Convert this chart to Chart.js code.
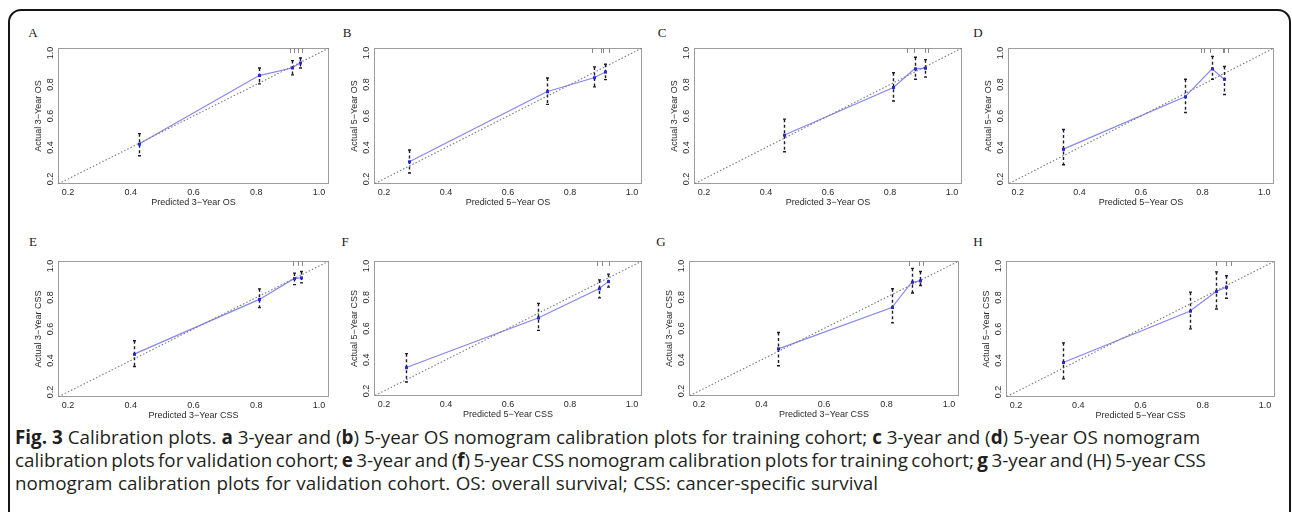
<!DOCTYPE html>
<html><head><meta charset="utf-8">
<script src="https://cdn.jsdelivr.net/npm/chart.js@4.4.1/dist/chart.umd.min.js"></script>
<style>
html,body{margin:0;padding:0;background:#fff;width:1292px;height:512px;overflow:hidden;position:relative;}
#frame{position:absolute;left:8px;top:9px;width:1283px;height:620px;border:2px solid #151515;border-radius:13px;box-sizing:border-box;}
canvas.panel{position:absolute;}
.letter{position:absolute;font-family:"Liberation Serif",serif;font-size:13px;color:#1a1a1a;transform:translate(-50%,-50%);line-height:1;}
.cap{position:absolute;left:15px;font-family:"Open Sans",sans-serif;font-size:16px;color:#231f20;white-space:nowrap;line-height:22px;}
.cap b{font-weight:700;}
</style></head>
<body>
<div id="frame"></div>
<div id="root"></div>
<div class="cap" id="cap1" style="top:426px"><b>Fig. 3</b> Calibration plots. <b>a</b> 3-year and (<b>b</b>) 5-year OS nomogram calibration plots for training cohort; <b>c</b> 3-year and (<b>d</b>) 5-year OS nomogram</div>
<div class="cap" id="cap2" style="top:449px">calibration plots for validation cohort; <b>e</b> 3-year and (<b>f</b>) 5-year CSS nomogram calibration plots for training cohort; <b>g</b> 3-year and (H) 5-year CSS</div>
<div class="cap" id="cap3" style="top:472px">nomogram calibration plots for validation cohort. OS: overall survival; CSS: cancer-specific survival</div>
<script>
// ---- data ----
const TICKS = [0.2, 0.4, 0.6, 0.8, 1.0];
const AXIS_RANGE = [0.168, 1.032];
const DIAGONAL = [0, 1.2];
const PANEL_LETTERS = ["A","B","C","D","E","F","G","H"];
const X_TITLES = ["Predicted 3\u2212Year OS","Predicted 5\u2212Year OS","Predicted 3\u2212Year OS","Predicted 5\u2212Year OS",
                  "Predicted 3\u2212Year CSS","Predicted 5\u2212Year CSS","Predicted 3\u2212Year CSS","Predicted 5\u2212Year CSS"];
const Y_TITLES = ["Actual 3\u2212Year OS","Actual 5\u2212Year OS","Actual 3\u2212Year OS","Actual 5\u2212Year OS",
                  "Actual 3\u2212Year CSS","Actual 5\u2212Year CSS","Actual 3\u2212Year CSS","Actual 5\u2212Year CSS"];

const A_pred   = [0.425, 0.809, 0.914, 0.940];
const A_actual = [0.421, 0.857, 0.905, 0.937];
const A_lower  = [0.347, 0.804, 0.861, 0.905];
const A_upper  = [0.488, 0.905, 0.952, 0.968];
const A_rug    = [0.908, 0.920, 0.932, 0.945];

const B_pred   = [0.282, 0.725, 0.877, 0.914];
const B_actual = [0.309, 0.754, 0.843, 0.879];
const B_lower  = [0.238, 0.674, 0.785, 0.831];
const B_upper  = [0.384, 0.841, 0.912, 0.929];
const B_rug    = [0.870, 0.900, 0.907, 0.926];

const C_pred   = [0.458, 0.811, 0.879, 0.912];
const C_actual = [0.478, 0.781, 0.900, 0.903];
const C_lower  = [0.373, 0.695, 0.833, 0.847];
const C_upper  = [0.580, 0.875, 0.973, 0.958];
const C_rug    = [0.854, 0.878, 0.912, 0.923];

const D_pred   = [0.346, 0.743, 0.831, 0.870];
const D_actual = [0.388, 0.722, 0.900, 0.833];
const D_lower  = [0.290, 0.622, 0.833, 0.737];
const D_upper  = [0.514, 0.833, 0.979, 0.914];
const D_rug    = [0.796, 0.804, 0.824, 0.865, 0.870, 0.881];

const E_pred   = [0.409, 0.810, 0.920, 0.942];
const E_actual = [0.439, 0.788, 0.920, 0.925];
const E_lower  = [0.362, 0.736, 0.882, 0.893];
const E_upper  = [0.525, 0.855, 0.955, 0.965];
const E_rug    = [0.916, 0.932, 0.945];

const F_pred   = [0.270, 0.697, 0.893, 0.923];
const F_actual = [0.349, 0.667, 0.854, 0.900];
const F_lower  = [0.258, 0.588, 0.796, 0.865];
const F_upper  = [0.439, 0.761, 0.911, 0.948];
const F_rug    = [0.886, 0.904, 0.924];

const G_pred   = [0.454, 0.817, 0.881, 0.908];
const G_actual = [0.470, 0.734, 0.896, 0.905];
const G_lower  = [0.362, 0.636, 0.827, 0.875];
const G_upper  = [0.574, 0.854, 0.985, 0.965];
const G_rug    = [0.873, 0.904, 0.917];

const H_pred   = [0.352, 0.758, 0.843, 0.875];
const H_actual = [0.387, 0.713, 0.838, 0.865];
const H_lower  = [0.283, 0.601, 0.727, 0.795];
const H_upper  = [0.512, 0.834, 0.963, 0.938];
const H_rug    = [0.841, 0.875, 0.891];

const SERIES = [
  [A_pred, A_actual, A_lower, A_upper, A_rug],
  [B_pred, B_actual, B_lower, B_upper, B_rug],
  [C_pred, C_actual, C_lower, C_upper, C_rug],
  [D_pred, D_actual, D_lower, D_upper, D_rug],
  [E_pred, E_actual, E_lower, E_upper, E_rug],
  [F_pred, F_actual, F_lower, F_upper, F_rug],
  [G_pred, G_actual, G_lower, G_upper, G_rug],
  [H_pred, H_actual, H_lower, H_upper, H_rug]
];

// ---- layout (plot box: left, right, top, bottom) ----
const BOXES = [
  [58, 329, 48, 184], [374, 642, 48, 184], [694, 962, 48, 184], [1008, 1274, 48, 184],
  [58, 329, 261, 397], [374, 642, 261, 396], [689, 959, 261, 396], [1006, 1275, 261, 397]
];
const LETTER_POS = [[33,32],[347,32],[662,32],[978,32],[33,241],[345,241],[661,241],[978,241]];
const CAPTION_LEFT = 15;
const CAPTION_RIGHT = [1200, 1206, 878];
const Y_AXIS_W = 30, X_AXIS_H = 26, PAD_TOP = 8, PAD_RIGHT = 6;
const FONT = "'Liberation Sans', Arial, sans-serif";

const boxPlugin = {
  id: 'rbox',
  beforeDatasetsDraw(chart) {
    const a = chart.chartArea, ctx = chart.ctx;
    ctx.save();
    ctx.strokeStyle = '#9c9c9c'; ctx.lineWidth = 1;
    ctx.strokeRect(Math.round(a.left) + 0.5, Math.round(a.top) + 0.5, Math.round(a.right - a.left) - 1, Math.round(a.bottom - a.top) - 1);
    ctx.restore();
  }
};
const rugPlugin = {
  id: 'rug',
  afterDatasetsDraw(chart) {
    const ds = chart.data.datasets[1];
    const xs = chart.scales.x, a = chart.chartArea, ctx = chart.ctx;
    ctx.save();
    ctx.strokeStyle = '#8a8a8a'; ctx.lineWidth = 1;
    ds.rug.forEach(v => {
      const px = Math.round(xs.getPixelForValue(v)) + 0.5;
      ctx.beginPath(); ctx.moveTo(px, a.top); ctx.lineTo(px, a.top + 5); ctx.stroke();
    });
    ctx.restore();
  }
};
const errPlugin = {
  id: 'errbars',
  afterDatasetsDraw(chart) {
    const ds = chart.data.datasets[1];
    const xs = chart.scales.x, ys = chart.scales.y, ctx = chart.ctx;
    ctx.save();
    ctx.strokeStyle = '#1c1c30'; ctx.lineWidth = 1.4;
    ds.data.forEach((pt, j) => {
      const px = Math.round(xs.getPixelForValue(pt.x)) + 0.5;
      const yl = ys.getPixelForValue(ds.lower[j]);
      const yh = ys.getPixelForValue(ds.upper[j]);
      ctx.setLineDash([3, 2.5]);
      ctx.beginPath(); ctx.moveTo(px, yh); ctx.lineTo(px, yl); ctx.stroke();
      ctx.setLineDash([]);
      ctx.beginPath();
      ctx.moveTo(px - 1.5, yh); ctx.lineTo(px + 1.5, yh);
      ctx.moveTo(px - 1.5, yl); ctx.lineTo(px + 1.5, yl);
      ctx.stroke();
      ctx.fillStyle = '#2a2ad0';
      ctx.fillRect(px - 1.5, ys.getPixelForValue(pt.y) - 1.5, 3, 3);
    });
    ctx.restore();
  }
};

const root = document.getElementById('root');
SERIES.forEach((s, i) => {
  const [L, R, T, B] = BOXES[i];
  const cv = document.createElement('canvas');
  cv.className = 'panel';
  const W = (R - L) + Y_AXIS_W + PAD_RIGHT, H = (B - T) + PAD_TOP + X_AXIS_H;
  cv.width = W; cv.height = H;
  cv.style.left = (L - Y_AXIS_W) + 'px'; cv.style.top = (T - PAD_TOP) + 'px';
  cv.style.width = W + 'px'; cv.style.height = H + 'px';
  root.appendChild(cv);

  const lt = document.createElement('div');
  lt.className = 'letter'; lt.textContent = PANEL_LETTERS[i];
  lt.style.left = LETTER_POS[i][0] + 'px'; lt.style.top = LETTER_POS[i][1] + 'px';
  root.appendChild(lt);

  const [pred, actual, lower, upper, rug] = s;
  new Chart(cv, {
    type: 'line',
    data: {
      datasets: [
        { label: 'ideal', data: DIAGONAL.map(v => ({x: v, y: v})), borderColor: '#7a7a7a', borderWidth: 1.1,
          borderDash: [1.5, 2], pointRadius: 0, fill: false },
        { label: 'calibration', data: pred.map((p, j) => ({x: p, y: actual[j]})), borderColor: '#8686f5',
          borderWidth: 1.2, pointRadius: 0, fill: false, lower: lower, upper: upper, rug: rug }
      ]
    },
    options: {
      responsive: false, animation: false, devicePixelRatio: 1,
      layout: { padding: { left: 0, top: PAD_TOP, right: PAD_RIGHT, bottom: 0 } },
      plugins: { legend: { display: false }, tooltip: { enabled: false } },
      scales: {
        x: {
          type: 'linear', min: AXIS_RANGE[0], max: AXIS_RANGE[1],
          grid: { display: false, drawTicks: false }, border: { display: false },
          afterBuildTicks: sc => { sc.ticks = TICKS.map(v => ({ value: v })); },
          afterFit: sc => { sc.height = X_AXIS_H; },
          ticks: { font: { family: FONT, size: 9 }, color: '#2a2a2a', padding: 3, maxRotation: 0, autoSkip: false,
                   callback: v => v.toFixed(1) },
          title: { display: true, text: X_TITLES[i], font: { family: FONT, size: 9 }, color: '#2a2a2a',
                   padding: { top: 0, bottom: 2.4 } }
        },
        y: {
          type: 'linear', min: AXIS_RANGE[0], max: AXIS_RANGE[1],
          grid: { display: false, drawTicks: false }, border: { display: false },
          afterBuildTicks: sc => { sc.ticks = TICKS.map(v => ({ value: v })); },
          afterFit: sc => { sc.width = Y_AXIS_W; },
          ticks: { font: { family: FONT, size: 9 }, color: '#2a2a2a', padding: 1.5, minRotation: 90, maxRotation: 90,
                   crossAlign: 'center', autoSkip: false, callback: v => v.toFixed(1) },
          title: { display: true, text: Y_TITLES[i], font: { family: FONT, size: 9 }, color: '#2a2a2a',
                   padding: { top: 5.6, bottom: 0 } }
        }
      }
    },
    plugins: [boxPlugin, rugPlugin, errPlugin]
  });
});

// caption: font sized on line 1, small word-spacing tweaks so each line ends where it does in the figure
(function(){
  const c1 = document.getElementById('cap1');
  const fs = 16 * (CAPTION_RIGHT[0] - CAPTION_LEFT) / c1.getBoundingClientRect().width;
  document.querySelectorAll('.cap').forEach(el => { el.style.fontSize = fs.toFixed(2) + 'px'; el.style.left = CAPTION_LEFT + 'px'; });
  ['cap1','cap2','cap3'].forEach((id, k) => {
    const el = document.getElementById(id);
    const nat = el.getBoundingClientRect().width;
    const spaces = (el.textContent.match(/ /g) || []).length;
    const ws = (CAPTION_RIGHT[k] - CAPTION_LEFT - nat) / spaces;
    el.style.wordSpacing = ws.toFixed(2) + 'px';
  });
})();
</script>
</body></html>
